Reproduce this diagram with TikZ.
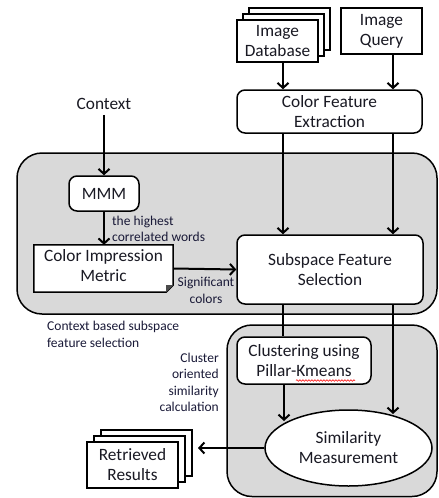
\documentclass[tikz,border=0pt]{standalone}
\usepackage{fontspec}
\setmainfont{Carlito}
\usetikzlibrary{arrows.meta,shadows,shapes.geometric,decorations.pathmorphing,calc}
\definecolor{txt}{RGB}{25,25,35}
\definecolor{lbl}{RGB}{25,25,55}
\definecolor{panelgray}{RGB}{217,217,217}
\begin{document}
\begin{tikzpicture}[x=1pt,y=-1pt,
  every node/.style={font=\fontsize{17.3}{20}\selectfont, text=txt},
  box/.style={draw, line width=1.5pt, fill=white, align=center, inner sep=0pt},
  rbox/.style={box, rounded corners=8pt},
  stack/.style={box, double copy shadow={shadow xshift=#1pt, shadow yshift=6pt, fill=white, draw=black, line width=1.5pt}},
  panel/.style={draw, line width=1.5pt, fill=panelgray, rounded corners=25pt},
  arr/.style={line width=2pt, -{Straight Barb[length=5pt,width=11pt,line width=2pt]}},
  ln/.style={line width=2pt},
  lab/.style={font=\fontsize{13.5}{16.3}\selectfont, text=lbl, inner sep=0pt}
]
\useasboundingbox (0,0) rectangle (439,498);
\clip (0,0) rectangle (439,498);

% panels
\draw[panel] (17,153) rectangle (437,314);
\draw[panel] (227,325) rectangle (437,496.5);

% column coordinates
\coordinate (colA) at (283,0);
\coordinate (colB) at (393,0);
\coordinate (simA) at (284,421);
\coordinate (simB) at (393,414);
\coordinate (resEnd) at (198,0);

% nodes
\node[stack=6, minimum width=81pt, minimum height=42pt] (db) at (277.5,41) {Image\\Database};
\node[box, minimum width=81pt, minimum height=46pt] (query) at (381.5,31) {Image\\Query};
\node[rbox, minimum width=185pt, minimum height=43pt] (cfe) at (329.5,111.5) {Color Feature\\Extraction};
\node[inner sep=0pt] (ctx) at (104,104) {Context};
\node[rbox, minimum width=70pt, minimum height=35pt] (mmm) at (104,193.5) {MMM};

% Color Impression Metric (folded-corner document shape)
\node[minimum width=139pt, minimum height=47pt, inner sep=0pt] (cim) at (103.5,268.5) {};
\draw[line width=1.5pt, fill=white] (cim.north west) -- (cim.north east) -- ($(cim.south east)+(0,-7)$) -- ($(cim.south east)+(-7,0)$) -- (cim.south west) -- cycle;
\fill[black!70] ($(cim.south east)+(0,-7)$) -- ($(cim.south east)+(-7,0)$) -- ($(cim.south east)+(-7,-7)$) -- cycle;
\node[align=center, inner sep=0pt] (cimtext) at ($(cim.center)+(0,-3)$) {Color Impression\\Metric};

\node[rbox, minimum width=186pt, minimum height=69pt] (sfs) at (330,269.5) {Subspace Feature\\Selection};
\node[rbox, minimum width=134pt, minimum height=47pt] (clu) at (304,360.5) {Clustering using\\Pillar-Kmeans};
\node[draw, ellipse, line width=1.5pt, fill=white, minimum width=167pt, minimum height=76pt, inner sep=0pt, align=center] (sim) at (348.5,448) {Similarity\\Measurement};
\node[stack=7, minimum width=91pt, minimum height=46pt] (res) at (132.5,465) {Retrieved\\Results};

% spell-check underline
\draw[red, line width=0.6pt, decorate, decoration={snake, amplitude=0.8pt, segment length=3pt}] (296,380.5) -- (355,380.5);

% labels
\node[lab, align=left, anchor=west] (lhigh) at (112,229) {the highest\\correlated words};
\node[lab, align=center] (lsig) at (206,290.5) {Significant\\colors};
\node[lab, align=left, anchor=west] (lctx) at (47,334.5) {Context based subspace\\feature selection};
\node[lab, align=right, anchor=east] (lclu) at (219,382.5) {Cluster\\oriented\\similarity\\calculation};

% connectors
\draw[arr] (db.south -| colA) -- (cfe.north -| colA);
\draw[arr] (query.south -| colB) -- (cfe.north -| colB);
\draw[arr] (ctx.south) ++(0,5) -- (mmm.north);
\draw[arr] (mmm.south) -- (cim.north -| mmm.south);
\draw[arr] (cim.east) -- (sfs.west);
\draw[arr] (cfe.south -| colA) -- (sfs.north -| colA);
\draw[arr] (cfe.south -| colB) -- (sfs.north -| colB);
\draw[ln] (sfs.south -| colA) -- (clu.north -| colA);
\draw[arr] (clu.south -| simA) -- (simA);
\draw[arr] (sfs.south -| colB) -- (simB);
\draw[arr] (sim.west) -- (sim.west -| resEnd);
\end{tikzpicture}
\end{document}
